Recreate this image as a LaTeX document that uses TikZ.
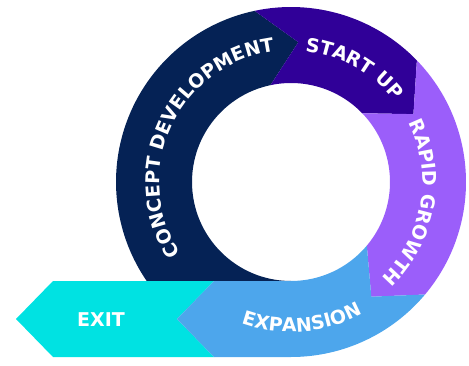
\documentclass[tikz,border=0pt]{standalone}
\usepackage{fontspec}
\setmainfont{DejaVu Sans}
\usetikzlibrary{decorations.text}
\definecolor{cdnavy}{HTML}{052255}
\definecolor{suindigo}{HTML}{300098}
\definecolor{rgpurple}{HTML}{9B5EFA}
\definecolor{expblue}{HTML}{4DA6EC}
\definecolor{exitcyan}{HTML}{00E2E2}
\newcommand\lblsize{\fontsize{19}{19}\selectfont\bfseries}
\newcommand\lblfont{\lblsize\color{white}}
\begin{document}
\begin{tikzpicture}[x=1pt,y=1pt,
  ringtext/.style={decorate,decoration={text along path,text align=center,text={|\lblfont|#1}}},
  label/.style={font=\lblsize,text=white,inner sep=0pt}]
\useasboundingbox (0,0) rectangle (469,365);
\coordinate (C) at (291,183);
% concept development
\fill[cdnavy] ([shift={(C)}]102:175) arc[start angle=102,end angle=214.4,radius=175]
  -- ([shift={(C)}]270:99) arc[start angle=270,end angle=102,radius=99]
  -- ([shift={(C)}]87:140) -- cycle;
% start up
\fill[suindigo] ([shift={(C)}]102:175) arc[start angle=102,end angle=44,radius=175]
  -- ([shift={(C)}]29:140) -- ([shift={(C)}]44:99) arc[start angle=44,end angle=102,radius=99]
  -- ([shift={(C)}]87:140) -- cycle;
% rapid growth
\fill[rgpurple] ([shift={(C)}]44:175) arc[start angle=44,end angle=-40,radius=175]
  -- ([shift={(C)}]-55:140) -- ([shift={(C)}]-40:99) arc[start angle=-40,end angle=44,radius=99]
  -- ([shift={(C)}]29:140) -- cycle;
% exit
\fill[exitcyan] (53,84) -- (16,46) -- (53,8) -- (214,8) -- (177,46) -- (214,84) -- cycle;
% expansion
\fill[expblue] ([shift={(C)}]-40:175) arc[start angle=-40,end angle=-90,radius=175]
  -- (214,8) -- (177,46) -- (214,84) -- ([shift={(C)}]270:99)
  arc[start angle=270,end angle=320,radius=99] -- ([shift={(C)}]-55:140) -- cycle;
% texts
\path[ringtext=CONCEPT DEVELOPMENT] ([shift={(C)}]214:131.5) arc[start angle=214,end angle=96,radius=131.5];
\path[ringtext=START UP] ([shift={(C)}]100:131.5) arc[start angle=100,end angle=22,radius=131.5];
\path[ringtext=RAPID GROWTH] ([shift={(C)}]30:131.5) arc[start angle=30,end angle=-50,radius=131.5];
\path[ringtext=EXPANSION] ([shift={(C)}]240:150) arc[start angle=240,end angle=309,radius=150];
\node[label] (exit) at (101,45) {EXIT};
\end{tikzpicture}
\end{document}
